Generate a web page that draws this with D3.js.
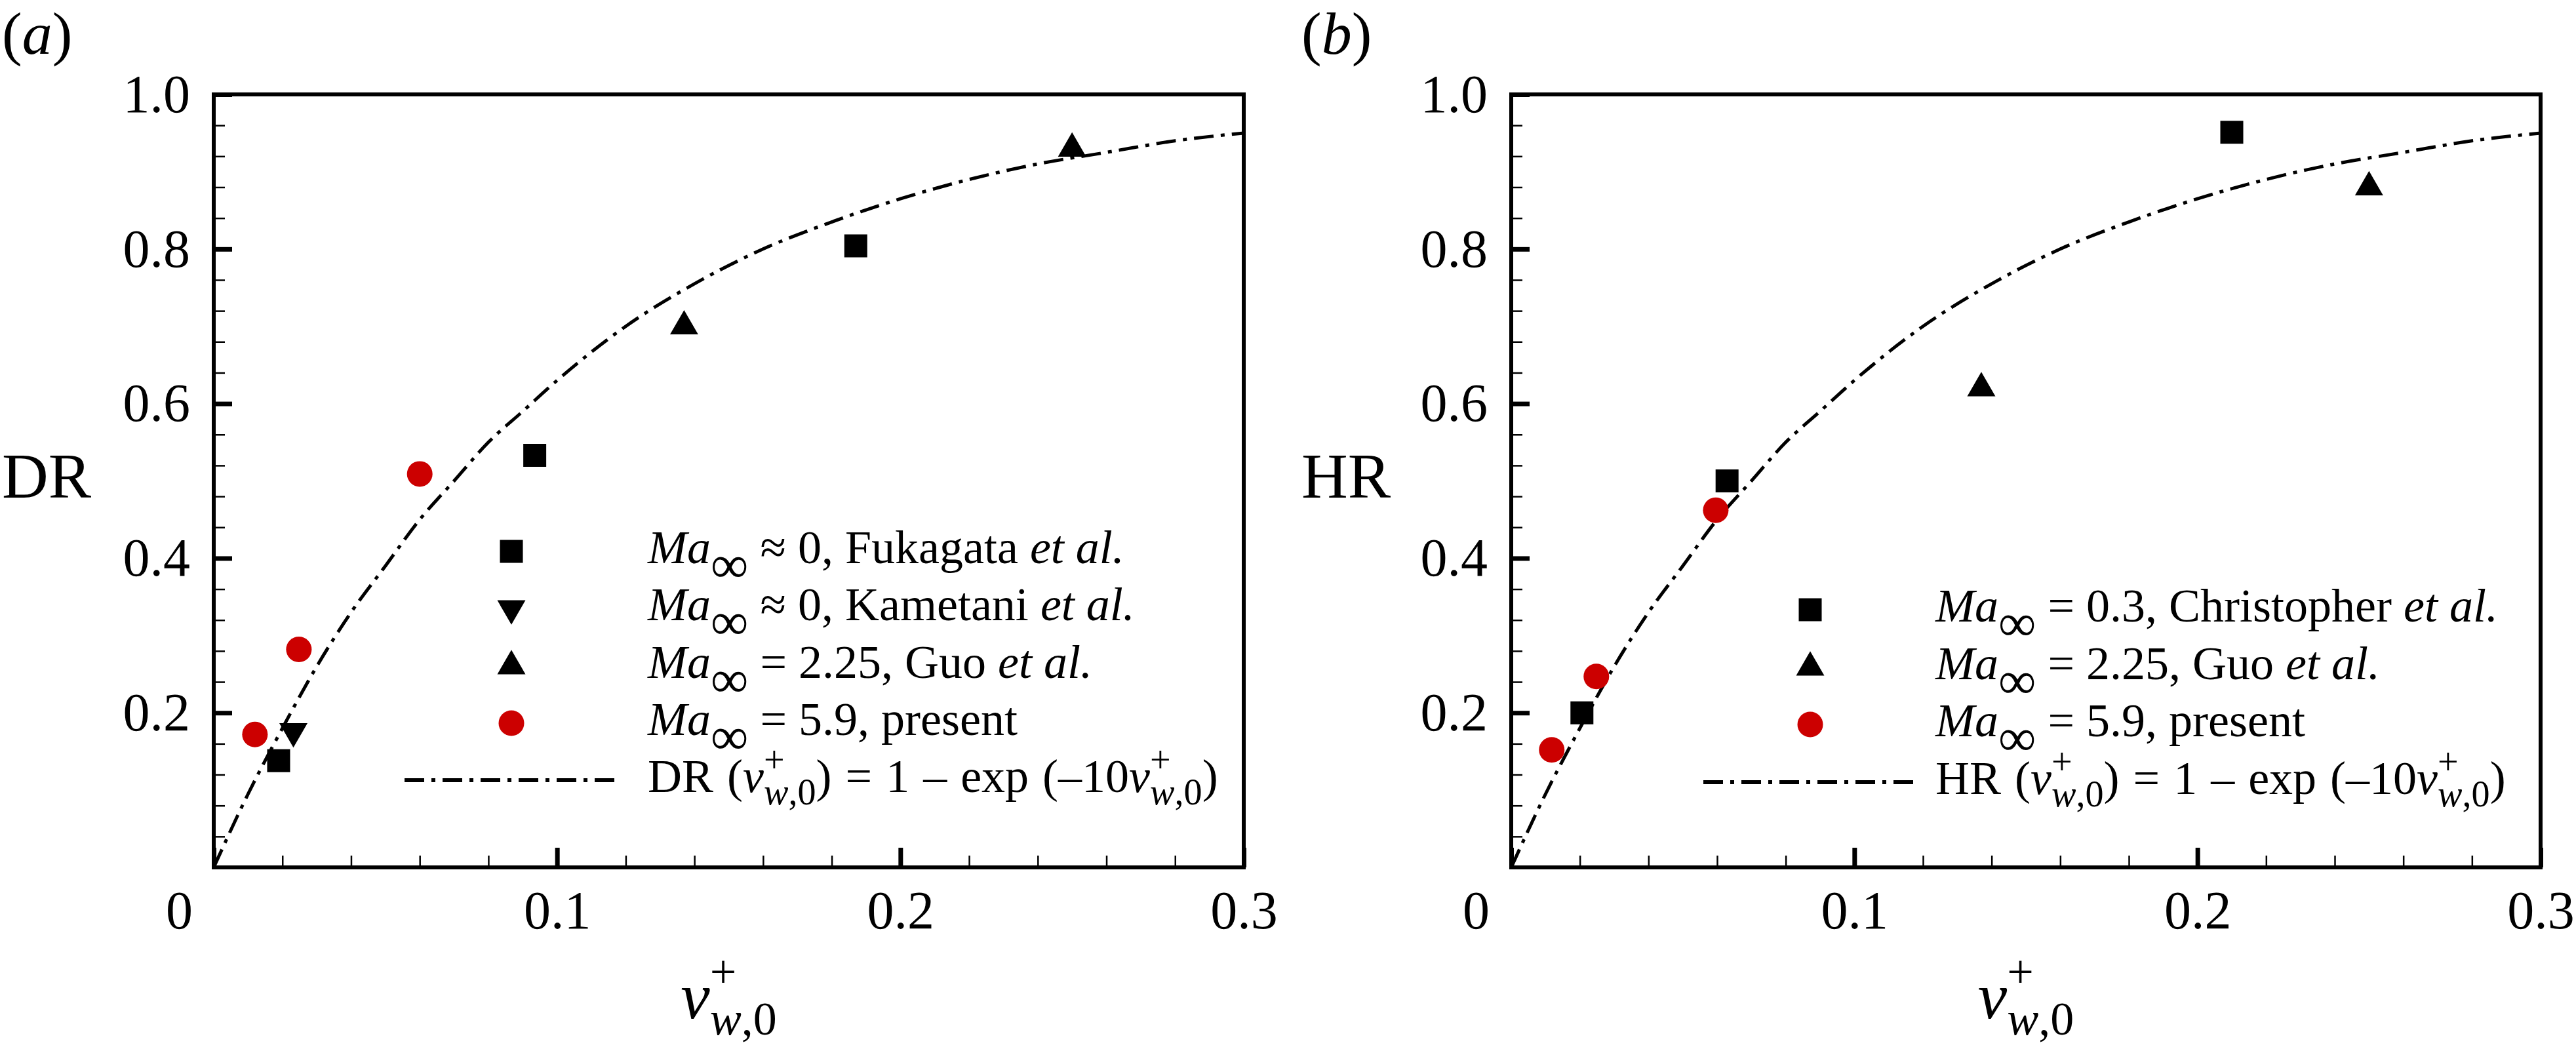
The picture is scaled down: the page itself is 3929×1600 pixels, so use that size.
<!DOCTYPE html>
<html>
<head>
<meta charset="utf-8">
<script src="https://cdn.jsdelivr.net/npm/d3@7"></script>
<style>
body { margin: 0; background: #fff; }
svg text { font-family: "Liberation Serif", "Times New Roman", "DejaVu Serif", serif; white-space: pre; fill: #000; }
</style>
</head>
<body>
<div id="chart-container"></div>
<script>
// two panels: (a) drag reduction, (b) heat transfer reduction
const svgWidth = 3929;
const svgHeight = 1600;
const serif = "'Liberation Serif', 'Times New Roman', 'DejaVu Serif', serif";

// axis ticks (same for both panels)
const xMajor = [0, 0.1, 0.2, 0.3];
const xMinor = [0.02, 0.04, 0.06, 0.08, 0.12, 0.14, 0.16, 0.18, 0.22, 0.24, 0.26, 0.28];
const yMajor = [0.2, 0.4, 0.6, 0.8, 1.0];
const yMinor = [0.04, 0.08, 0.12, 0.16, 0.24, 0.28, 0.32, 0.36, 0.44, 0.48, 0.52, 0.56,
                0.64, 0.68, 0.72, 0.76, 0.84, 0.88, 0.92, 0.96];

// panel (a) data
const fukagataX = [0.0189, 0.0935, 0.187];
const fukagataY = [0.138, 0.533, 0.804];
const kametaniX = [0.0232];
const kametaniY = [0.176];
const guoDrX = [0.137, 0.250];
const guoDrY = [0.700, 0.930];
const presentDrX = [0.012, 0.0248, 0.060];
const presentDrY = [0.172, 0.282, 0.509];

// panel (b) data
const christopherX = [0.0206, 0.0629, 0.210];
const christopherY = [0.200, 0.500, 0.951];
const guoHrX = [0.137, 0.250];
const guoHrY = [0.620, 0.880];
const presentHrX = [0.0118, 0.0248, 0.0596];
const presentHrY = [0.152, 0.247, 0.462];

// dash-dot fit curve
const fitX = [0, 0.01, 0.02, 0.03, 0.04, 0.05, 0.06, 0.07, 0.08, 0.09, 0.1, 0.12, 0.14,
              0.16, 0.18, 0.2, 0.22, 0.24, 0.26, 0.28, 0.3];
const fitY = [0, 0.095, 0.18, 0.26, 0.33, 0.39, 0.45, 0.50, 0.55, 0.59, 0.63, 0.70, 0.755,
              0.80, 0.835, 0.865, 0.89, 0.91, 0.925, 0.94, 0.95];

// legend texts, split in runs: r = roman, i = italic, inf = subscript infinity, sup/sub = stacked scripts
const legendA = [
    [["Ma", "i"], ["\u221E", "inf"], [" \u2248 0, Fukagata ", "r"], ["et al.", "i"]],
    [["Ma", "i"], ["\u221E", "inf"], [" \u2248 0, Kametani ", "r"], ["et al.", "i"]],
    [["Ma", "i"], ["\u221E", "inf"], [" = 2.25, Guo ", "r"], ["et al.", "i"]],
    [["Ma", "i"], ["\u221E", "inf"], [" = 5.9, present", "r"]],
    [["DR (", "r"], ["v", "i"], ["+", "sup"], ["w", "subi"], [",0", "subr"], [") = 1 \u2013 exp (\u201310", "r"],
     ["v", "i"], ["+", "sup"], ["w", "subi"], [",0", "subr"], [")", "r"]]
];
const legendB = [
    [["Ma", "i"], ["\u221E", "inf"], [" = 0.3, Christopher ", "r"], ["et al.", "i"]],
    [["Ma", "i"], ["\u221E", "inf"], [" = 2.25, Guo ", "r"], ["et al.", "i"]],
    [["Ma", "i"], ["\u221E", "inf"], [" = 5.9, present", "r"]],
    [["HR (", "r"], ["v", "i"], ["+", "sup"], ["w", "subi"], [",0", "subr"], [") = 1 \u2013 exp (\u201310", "r"],
     ["v", "i"], ["+", "sup"], ["w", "subi"], [",0", "subr"], [")", "r"]]
];
const xTitle = [["v", "i"], ["+", "sup"], ["w", "subi"], [",0", "subr"]];

const red = "#cc0000";

const svg = d3.select("#chart-container")
    .append("svg")
    .attr("width", svgWidth)
    .attr("height", svgHeight)
    .attr("font-family", serif);

// writes a text made of runs; sub right after sup is stacked under it
function richText(g, x, y, runs, size, o) {
    const t = g.append("text")
        .attr("x", x)
        .attr("y", y)
        .attr("font-family", serif)
        .attr("font-size", size)
        .attr("text-anchor", o.anchor || "start");
    let shift = 0;
    let supW = 0;
    let prev = "";
    runs.forEach(([str, kind]) => {
        let fs = size, style = "normal", off = 0;
        if (kind === "i") style = "italic";
        if (kind === "inf") { fs = size * 1.12; off = size * 0.4; }
        if (kind === "sup") { fs = size * o.script; off = size * o.sup; }
        if (kind === "subi" || kind === "subr") { fs = size * o.script; off = size * o.sub; }
        if (kind === "subi") style = "italic";
        const ts = t.append("tspan")
            .attr("font-size", fs)
            .attr("font-style", style)
            .attr("dy", off - shift)
            .text(str);
        if (kind === "subi" && prev === "sup") ts.attr("dx", -supW);
        shift = off;
        if (kind === "sup") supW = ts.node().getComputedTextLength();
        prev = kind;
    });
    return t;
}

function drawPanel(p) {
    const g = svg.append("g");
    const x = d3.scaleLinear().domain([0, 0.3]).range([p.left, p.right]);
    const y = d3.scaleLinear().domain([0, 1]).range([p.bottom, p.top]);

    // minor ticks
    g.append("g")
        .attr("transform", `translate(0,${p.bottom})`)
        .call(d3.axisBottom(x).tickValues(xMinor).tickSize(-18).tickFormat(""))
        .call(a => a.select(".domain").remove())
        .selectAll("line").attr("stroke-width", 2.5);
    g.append("g")
        .attr("transform", `translate(${p.left},0)`)
        .call(d3.axisLeft(y).tickValues(yMinor).tickSize(-17).tickFormat(""))
        .call(a => a.select(".domain").remove())
        .selectAll("line").attr("stroke-width", 2.5);

    // major ticks with labels
    const xa = g.append("g")
        .attr("transform", `translate(0,${p.bottom})`)
        .call(d3.axisBottom(x).tickValues(xMajor).tickSize(-30).tickPadding(35)
            .tickFormat(d => d === 0 ? "0" : d3.format(".1f")(d)));
    const ya = g.append("g")
        .attr("transform", `translate(${p.left},0)`)
        .call(d3.axisLeft(y).tickValues(yMajor).tickSize(-28).tickPadding(36)
            .tickFormat(d3.format(".1f")));
    [xa, ya].forEach(a => {
        a.attr("font-size", null).attr("font-family", serif);
        a.select(".domain").remove();
        a.selectAll("line").attr("stroke-width", 7);
        a.selectAll("text").attr("font-size", 82).attr("font-family", serif);
    });
    xa.selectAll(".tick").filter(d => d === 0).select("text").attr("x", p.zeroShift);

    // fit curve
    const line = d3.line()
        .x(i => x(fitX[i]))
        .y(i => y(fitY[i]))
        .curve(d3.curveMonotoneX);
    g.append("path")
        .attr("d", line(d3.range(fitX.length)))
        .attr("fill", "none")
        .attr("stroke", "#000")
        .attr("stroke-width", 5)
        .attr("stroke-dasharray", "30,11,6,11");

    // markers
    p.series.forEach(s => {
        g.selectAll(null)
            .data(s.xs)
            .enter()
            .append("path")
            .attr("d", d3.symbol().type(s.type).size(s.size))
            .attr("transform", (d, i) => `translate(${x(d)},${y(s.ys[i])})${s.flip ? " rotate(180)" : ""}`)
            .attr("fill", s.color);
    });

    // frame
    g.append("rect")
        .attr("x", p.left)
        .attr("y", p.top)
        .attr("width", p.right - p.left)
        .attr("height", p.bottom - p.top)
        .attr("fill", "none")
        .attr("stroke", "#000")
        .attr("stroke-width", 6);

    // legend
    p.legend.forEach((runs, i) => {
        const ry = p.rowY[i];
        const s = p.legendMarks[i];
        if (s) {
            g.append("path")
                .attr("d", d3.symbol().type(s.type).size(s.size))
                .attr("transform", `translate(${p.symX},${ry})${s.flip ? " rotate(180)" : ""}`)
                .attr("fill", s.color);
        } else {
            g.append("line")
                .attr("x1", p.lineX[0]).attr("x2", p.lineX[1])
                .attr("y1", ry).attr("y2", ry)
                .attr("stroke", "#000")
                .attr("stroke-width", 6)
                .attr("stroke-dasharray", "30,11,6,11");
        }
        richText(g, p.textX, ry + 18, runs, 72, { script: 0.78, sup: -0.42, sub: 0.26 })
            .attr("word-spacing", s ? 0 : 3);
    });

    // titles
    g.append("text").attr("x", p.tagX).attr("y", 82).attr("font-size", 92).attr("font-family", serif)
        .call(t => t.append("tspan").text("("))
        .call(t => t.append("tspan").attr("font-style", "italic").text(p.tag))
        .call(t => t.append("tspan").text(")"));
    g.append("text").attr("x", p.tagX).attr("y", 759).attr("font-size", 98).attr("font-family", serif)
        .text(p.yTitle);
    richText(g, (p.left + p.right) / 2, 1553, xTitle, 100,
        { script: 0.72, sup: -0.47, sub: 0.25, anchor: "middle" });
}

const square = { type: d3.symbolSquare, size: 1225, color: "#000" };
const triUp = { type: d3.symbolTriangle, size: 800, color: "#000" };
const triDown = { type: d3.symbolTriangle, size: 800, color: "#000", flip: true };
const dot = { type: d3.symbolCircle, size: 1195, color: red };

drawPanel({
    left: 326, right: 1897, top: 144, bottom: 1323, zeroShift: -53,
    tag: "a", tagX: 3, yTitle: "DR",
    series: [
        Object.assign({ xs: fukagataX, ys: fukagataY }, square),
        Object.assign({ xs: kametaniX, ys: kametaniY }, triDown),
        Object.assign({ xs: guoDrX, ys: guoDrY }, triUp),
        Object.assign({ xs: presentDrX, ys: presentDrY }, dot)
    ],
    legend: legendA,
    legendMarks: [square, triDown, triUp, dot, null],
    rowY: [841, 928, 1016, 1103, 1190],
    symX: 780, lineX: [617, 938], textX: 988
});

drawPanel({
    left: 2305, right: 3875, top: 144, bottom: 1323, zeroShift: -54,
    tag: "b", tagX: 1985, yTitle: "HR",
    series: [
        Object.assign({ xs: christopherX, ys: christopherY }, square),
        Object.assign({ xs: guoHrX, ys: guoHrY }, triUp),
        Object.assign({ xs: presentHrX, ys: presentHrY }, dot)
    ],
    legend: legendB,
    legendMarks: [square, triUp, dot, null],
    rowY: [930, 1018, 1105, 1193],
    symX: 2761, lineX: [2598, 2921], textX: 2952
});
</script>
</body>
</html>
